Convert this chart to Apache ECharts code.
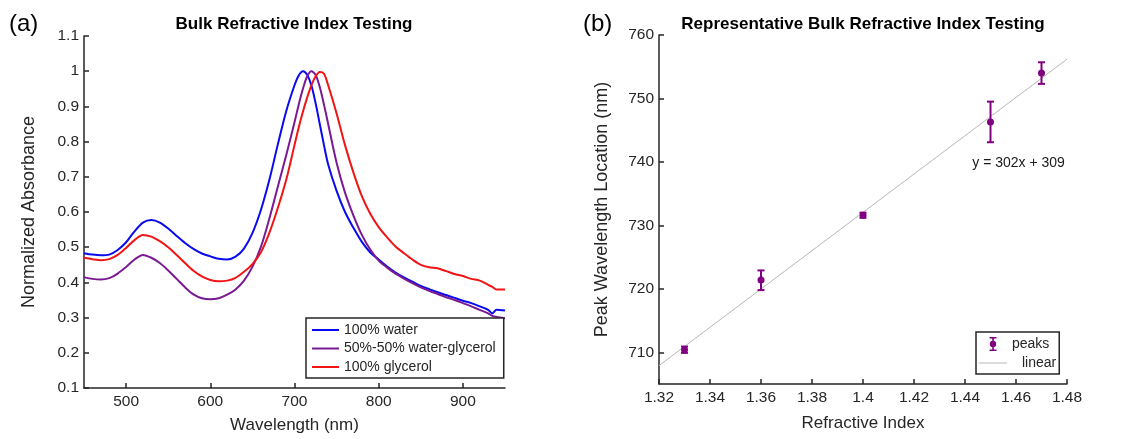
<!DOCTYPE html>
<html>
<head>
<meta charset="utf-8">
<script src="https://cdn.jsdelivr.net/npm/echarts@6/dist/echarts.min.js"></script>
<style>
  html, body { margin: 0; padding: 0; background: #ffffff; }
  #chart { width: 1136px; height: 439px; }
</style>
</head>
<body>
<div id="chart"></div>
<script>
// ---------- Panel (a) data: normalized absorbance spectra ----------
const wavelength = [450,460,470,480,490,500,510,520,530,540,550,560,570,580,590,600,610,620,630,640,650,660,670,680,690,700,705,710,715,720,725,730,735,740,750,760,770,780,790,800,810,820,830,840,850,860,870,880,890,900,910,920,930,935,940,950];
const water = [0.483,0.479,0.477,0.479,0.492,0.514,0.545,0.570,0.577,0.570,0.553,0.532,0.512,0.495,0.482,0.474,0.467,0.465,0.473,0.496,0.540,0.605,0.690,0.790,0.885,0.960,0.988,1.000,0.990,0.960,0.910,0.850,0.790,0.735,0.660,0.600,0.555,0.515,0.485,0.465,0.445,0.428,0.414,0.402,0.390,0.381,0.372,0.364,0.356,0.348,0.341,0.332,0.322,0.312,0.322,0.320];
const mix = [0.415,0.410,0.408,0.412,0.425,0.444,0.465,0.478,0.470,0.455,0.434,0.410,0.386,0.366,0.355,0.352,0.355,0.365,0.380,0.405,0.444,0.500,0.580,0.670,0.760,0.855,0.905,0.950,0.985,1.000,0.990,0.955,0.905,0.850,0.740,0.655,0.590,0.535,0.493,0.462,0.442,0.425,0.411,0.398,0.386,0.376,0.367,0.358,0.350,0.341,0.332,0.322,0.312,0.305,0.302,0.298];
const glycerol = [0.470,0.466,0.463,0.466,0.478,0.498,0.520,0.535,0.530,0.517,0.500,0.478,0.455,0.433,0.417,0.407,0.403,0.405,0.413,0.430,0.452,0.485,0.540,0.610,0.690,0.790,0.840,0.885,0.925,0.960,0.985,0.998,0.993,0.960,0.880,0.790,0.712,0.645,0.595,0.557,0.528,0.502,0.483,0.465,0.450,0.443,0.440,0.432,0.424,0.418,0.410,0.405,0.393,0.387,0.380,0.380];
const seriesNamesA = ['100% water', '50%-50% water-glycerol', '100% glycerol'];
const xTicksA = [500, 600, 700, 800, 900];
const yTicksA = [0.1, 0.2, 0.3, 0.4, 0.5, 0.6, 0.7, 0.8, 0.9, 1, 1.1];

// ---------- Panel (b) data: peak location vs refractive index ----------
const refractiveIndex = [1.33, 1.36, 1.40, 1.45, 1.47];
const peakWavelength = [710.4, 721.4, 731.6, 746.3, 754.0];
const errLow = [709.9, 719.8, 731.2, 743.1, 752.3];
const errHigh = [710.9, 722.9, 732.0, 749.5, 755.7];
const fitLineX = [1.32, 1.48];
const fitLineY = [707.9, 756.2];
const fitLabel = 'y = 302x + 309';
const fitLabelPos = [1.461, 739.8];
const xTicksB = [1.32, 1.34, 1.36, 1.38, 1.4, 1.42, 1.44, 1.46, 1.48];
const yTicksB = [710, 720, 730, 740, 750, 760];

const FONT = '"Liberation Sans", Arial, Helvetica, sans-serif';
const TXT = '#262626';
const AX = '#262626';
const PURPLE = '#800080';
const LINE_ICON = 'path://M0,0M27,14M0,6L27,6L27,8L0,8Z';
const THIN_ICON = 'path://M0,0M28,14M0,6.5L28,6.5L28,7.5L0,7.5Z';
const ERR_ICON = 'path://M0,0M28,14M13.2,1L14.8,1L14.8,13L13.2,13Z M10.5,0L17.5,0L17.5,1.6L10.5,1.6Z M10.5,12.4L17.5,12.4L17.5,14L10.5,14Z M17.2,7A3.2,3.2,0,1,1,10.8,7A3.2,3.2,0,1,1,17.2,7Z';

const chart = echarts.init(document.getElementById('chart'), null, { renderer: 'canvas' });

function axisCommon(ticks, isX) {
  return {
    axisLine: { show: true, onZero: false, lineStyle: { color: AX, width: 1.5 } },
    axisTick: { show: true, inside: true, length: 5, customValues: ticks, lineStyle: { color: AX, width: 1.5 } },
    axisLabel: { customValues: ticks, color: TXT, fontSize: 15.5, fontFamily: FONT, margin: isX ? 6 : 5 },
    splitLine: { show: false },
    nameTextStyle: { color: TXT, fontFamily: FONT, fontSize: isX ? 17 : 18 }
  };
}

const option = {
  backgroundColor: '#ffffff',
  animation: false,
  textStyle: { fontFamily: FONT },
  title: [
    { text: 'Bulk Refractive Index Testing', left: 294, top: 16, textAlign: 'center', padding: 0,
      textStyle: { fontSize: 17, fontWeight: 'bold', color: '#000', fontFamily: FONT } },
    { text: 'Representative Bulk Refractive Index Testing', left: 863, top: 16, textAlign: 'center', padding: 0,
      textStyle: { fontSize: 17, fontWeight: 'bold', color: '#000', fontFamily: FONT } },
    { text: '(a)', left: 9, top: 12, padding: 0,
      textStyle: { fontSize: 24, fontWeight: 'normal', color: '#000', fontFamily: FONT } },
    { text: '(b)', left: 583, top: 12, padding: 0,
      textStyle: { fontSize: 24, fontWeight: 'normal', color: '#000', fontFamily: FONT } }
  ],
  grid: [
    { left: 84, top: 36, width: 421, height: 357 },
    { left: 659, top: 35, width: 408, height: 349 }
  ],
  xAxis: [
    Object.assign({ type: 'value', gridIndex: 0, min: 450, max: 950, name: 'Wavelength (nm)', nameLocation: 'middle', nameGap: 29 }, axisCommon(xTicksA, true)),
    Object.assign({ type: 'value', gridIndex: 1, min: 1.32, max: 1.48, name: 'Refractive Index', nameLocation: 'middle', nameGap: 31 }, axisCommon(xTicksB, true))
  ],
  yAxis: [
    Object.assign({ type: 'value', gridIndex: 0, min: 0.1, max: 1.1, name: 'Normalized Absorbance', nameLocation: 'middle', nameGap: 46 }, axisCommon(yTicksA, false)),
    Object.assign({ type: 'value', gridIndex: 1, min: 705, max: 760, name: 'Peak Wavelength Location (nm)', nameLocation: 'middle', nameGap: 48 }, axisCommon(yTicksB, false))
  ],
  legend: [
    {
      data: seriesNamesA.map(n => ({ name: n, icon: LINE_ICON })),
      orient: 'vertical', left: 306, top: 318,
      padding: [5, 8, 4, 6], itemWidth: 27, itemHeight: 14, itemGap: 4.5,
      borderColor: AX, borderWidth: 1.5, backgroundColor: '#ffffff', borderRadius: 0,
      textStyle: { color: TXT, fontSize: 14, fontFamily: FONT }
    },
    {
      data: [
        { name: 'peaks', icon: ERR_ICON },
        { name: 'linear', icon: THIN_ICON }
      ],
      orient: 'vertical', left: 976, top: 332,
      padding: [5, 3, 4, 3], itemWidth: 28, itemHeight: 14, itemGap: 5,
      borderColor: AX, borderWidth: 1.5, backgroundColor: '#ffffff', borderRadius: 0,
      formatter: function (n) { return n === 'linear' ? '{l|' + n + '}' : n; },
      textStyle: { color: TXT, fontSize: 14, fontFamily: FONT,
        rich: { l: { padding: [0, 0, 0, 10], color: TXT, fontSize: 14, fontFamily: FONT } } }
    }
  ],
  series: [
    { name: seriesNamesA[0], type: 'line', xAxisIndex: 0, yAxisIndex: 0, symbol: 'none', smooth: 0.3,
      data: wavelength.map((w, i) => [w, water[i]]), lineStyle: { color: '#0a0af0', width: 2 }, itemStyle: { color: '#0a0af0' } },
    { name: seriesNamesA[1], type: 'line', xAxisIndex: 0, yAxisIndex: 0, symbol: 'none', smooth: 0.3,
      data: wavelength.map((w, i) => [w, mix[i]]), lineStyle: { color: '#7a1a92', width: 2 }, itemStyle: { color: '#7a1a92' } },
    { name: seriesNamesA[2], type: 'line', xAxisIndex: 0, yAxisIndex: 0, symbol: 'none', smooth: 0.3,
      data: wavelength.map((w, i) => [w, glycerol[i]]), lineStyle: { color: '#f01414', width: 2 }, itemStyle: { color: '#f01414' } },
    { name: 'linear', type: 'line', xAxisIndex: 1, yAxisIndex: 1, symbol: 'none', z: 1,
      data: fitLineX.map((x, i) => [x, fitLineY[i]]),
      lineStyle: { color: '#b8b8b8', width: 1 }, itemStyle: { color: '#b8b8b8' },
      markPoint: {
        symbol: 'circle', symbolSize: 0, silent: true,
        data: [{ coord: fitLabelPos, value: fitLabel }],
        label: { show: true, position: 'inside', formatter: fitLabel, color: '#1a1a1a', fontSize: 14, fontFamily: FONT }
      } },
    { name: 'peaks-err', type: 'custom', xAxisIndex: 1, yAxisIndex: 1, z: 3,
      data: refractiveIndex.map((x, i) => [x, errLow[i], errHigh[i]]),
      encode: { x: 0, y: [1, 2] },
      renderItem: function (params, api) {
        const x = api.value(0), lo = api.value(1), hi = api.value(2);
        const pLo = api.coord([x, lo]), pHi = api.coord([x, hi]);
        const cw = 3.5;
        const st = { stroke: PURPLE, lineWidth: 2, fill: null };
        return { type: 'group', children: [
          { type: 'line', shape: { x1: pLo[0], y1: pLo[1], x2: pHi[0], y2: pHi[1] }, style: st },
          { type: 'line', shape: { x1: pLo[0] - cw, y1: pLo[1], x2: pLo[0] + cw, y2: pLo[1] }, style: st },
          { type: 'line', shape: { x1: pHi[0] - cw, y1: pHi[1], x2: pHi[0] + cw, y2: pHi[1] }, style: st }
        ] };
      } },
    { name: 'peaks', type: 'scatter', xAxisIndex: 1, yAxisIndex: 1, z: 4, symbol: 'circle', symbolSize: 7,
      data: refractiveIndex.map((x, i) => [x, peakWavelength[i]]), itemStyle: { color: PURPLE, opacity: 1 } }
  ]
};
chart.setOption(option);
</script>
</body>
</html>
